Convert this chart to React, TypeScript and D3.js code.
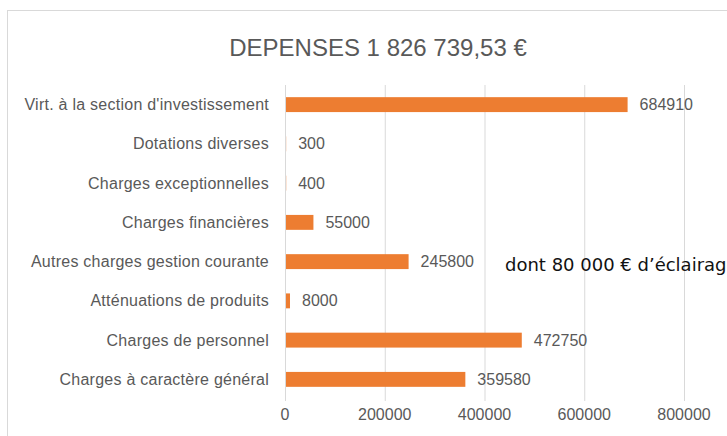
import * as d3 from 'd3';
import React, { useEffect, useRef } from 'react';

const categories = [
  "Virt. à la section d'investissement",
  'Dotations diverses',
  'Charges exceptionnelles',
  'Charges financières',
  'Autres charges gestion courante',
  'Atténuations de produits',
  'Charges de personnel',
  'Charges à caractère général',
];
const values = [684910, 300, 400, 55000, 245800, 8000, 472750, 359580];
const ticks = [0, 200000, 400000, 600000, 800000];
const title = 'DEPENSES 1 826 739,53 €';
const note = 'dont 80 000 € d’éclairage';

export default function App() {
  const svgRef = useRef<SVGSVGElement>(null);
  const width = 727;
  const height = 436;

  useEffect(() => {
    const svg = d3.select(svgRef.current);
    svg.selectAll('*').remove();

    const font = '"Liberation Sans Narrow", "Liberation Sans", sans-serif';
    const grey = '#595959';

    svg.append('rect').attr('width', width).attr('height', height).attr('fill', '#fff');
    svg.append('rect')
      .attr('x', 7.5).attr('y', 10.5)
      .attr('width', 760).attr('height', 460)
      .attr('fill', '#fff').attr('stroke', '#d9d9d9');

    const x = d3.scaleLinear().domain([0, 800000]).range([285, 684]);
    const y = d3.scaleBand<string>().domain(categories).range([85, 399]).paddingInner(0.62).paddingOuter(0.31);

    svg.append('text')
      .attr('x', 378).attr('y', 56)
      .attr('text-anchor', 'middle')
      .style('font-family', font).style('font-size', '24px')
      .attr('fill', grey)
      .text(title);

    const grid = svg.append('g');
    grid.selectAll('line')
      .data(ticks)
      .enter()
      .append('line')
      .attr('x1', d => x(d) + 0.5).attr('x2', d => x(d) + 0.5)
      .attr('y1', 85).attr('y2', 401)
      .attr('stroke', '#d9d9d9');

    grid.selectAll('text')
      .data(ticks)
      .enter()
      .append('text')
      .attr('x', d => x(d)).attr('y', 420)
      .attr('text-anchor', 'middle')
      .style('font-family', font).style('font-size', '16px')
      .attr('fill', grey)
      .text(d => String(d));

    const rows = svg.append('g')
      .selectAll('g')
      .data(categories)
      .enter()
      .append('g');

    rows.append('rect')
      .attr('x', x(0) + 1)
      .attr('y', d => y(d)!)
      .attr('width', (d, i) => Math.max(0, x(values[i]) - x(0)))
      .attr('height', y.bandwidth())
      .attr('fill', '#ED7D31');

    rows.append('text')
      .attr('x', 269)
      .attr('y', d => y(d)! + y.bandwidth() / 2)
      .attr('dy', '0.35em')
      .attr('text-anchor', 'end')
      .style('font-family', font).style('font-size', '16px')
      .style('letter-spacing', '0.25px')
      .attr('fill', grey)
      .text(d => d);

    rows.append('text')
      .attr('x', (d, i) => x(values[i]) + 13)
      .attr('y', d => y(d)! + y.bandwidth() / 2)
      .attr('dy', '0.35em')
      .style('font-family', font).style('font-size', '16px')
      .attr('fill', grey)
      .text((d, i) => String(values[i]));

    // note runs past the right edge, as in the original screenshot
    svg.append('text')
      .attr('x', 505)
      .attr('y', 271)
      .style('font-family', '"DejaVu Sans", Verdana, sans-serif').style('font-size', '18px')
      .attr('fill', '#111')
      .text(note);
  }, []);

  return (
    <svg ref={svgRef} width={width} height={height} style={{ position: 'absolute', left: 0, top: 0 }} />
  );
}
